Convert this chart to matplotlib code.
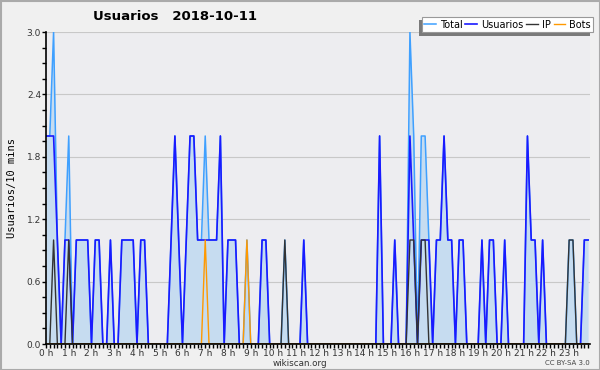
import numpy as np
import matplotlib.pyplot as plt
from matplotlib.patches import Rectangle
from matplotlib.ticker import MultipleLocator

# one value per 10 minutes, 12 values per line = 2 hours
usuarios = [
    2, 2, 2, 1, 0, 1, 1, 0, 1, 1, 1, 1,
    0, 1, 1, 0, 0, 1, 0, 0, 1, 1, 1, 1,
    0, 1, 1, 0, 0, 0, 0, 0, 0, 1, 2, 1,
    0, 1, 2, 2, 1, 1, 1, 1, 1, 1, 2, 0,
    1, 1, 1, 0, 0, 0, 0, 0, 0, 1, 1, 0,
    0, 0, 0, 0, 0, 0, 0, 0, 1, 0, 0, 0,
    0, 0, 0, 0, 0, 0, 0, 0, 0, 0, 0, 0,
    0, 0, 0, 0, 2, 0, 0, 0, 1, 0, 0, 0,
    2, 1, 0, 1, 1, 1, 0, 1, 1, 2, 1, 1,
    0, 1, 1, 0, 0, 0, 0, 1, 0, 1, 1, 0,
    0, 1, 0, 0, 0, 0, 0, 2, 1, 1, 0, 1,
    0, 0, 0, 0, 0, 0, 0, 0, 0, 0, 1, 1,
]
ip = [
    0, 0, 1, 0, 0, 0, 1, 0, 0, 0, 0, 0,
    0, 0, 0, 0, 0, 0, 0, 0, 0, 0, 0, 0,
    0, 0, 0, 0, 0, 0, 0, 0, 0, 0, 0, 0,
    0, 0, 0, 0, 0, 0, 0, 0, 0, 0, 0, 0,
    0, 0, 0, 0, 0, 0, 0, 0, 0, 0, 0, 0,
    0, 0, 0, 1, 0, 0, 0, 0, 0, 0, 0, 0,
    0, 0, 0, 0, 0, 0, 0, 0, 0, 0, 0, 0,
    0, 0, 0, 0, 0, 0, 0, 0, 0, 0, 0, 0,
    1, 1, 0, 1, 1, 0, 0, 0, 0, 0, 0, 0,
    0, 0, 0, 0, 0, 0, 0, 0, 0, 0, 0, 0,
    0, 0, 0, 0, 0, 0, 0, 0, 0, 0, 0, 0,
    0, 0, 0, 0, 0, 0, 1, 1, 0, 0, 0, 0,
]
bots = [
    0, 0, 0, 0, 0, 0, 0, 0, 0, 0, 0, 0,
    0, 0, 0, 0, 0, 0, 0, 0, 0, 0, 0, 0,
    0, 0, 0, 0, 0, 0, 0, 0, 0, 0, 0, 0,
    0, 0, 0, 0, 0, 0, 1, 0, 0, 0, 0, 0,
    0, 0, 0, 0, 0, 1, 0, 0, 0, 0, 0, 0,
    0, 0, 0, 0, 0, 0, 0, 0, 0, 0, 0, 0,
    0, 0, 0, 0, 0, 0, 0, 0, 0, 0, 0, 0,
    0, 0, 0, 0, 0, 0, 0, 0, 0, 0, 0, 0,
    0, 0, 0, 0, 0, 0, 0, 0, 0, 0, 0, 0,
    0, 0, 0, 0, 0, 0, 0, 0, 0, 0, 0, 0,
    0, 0, 0, 0, 0, 0, 0, 0, 0, 0, 0, 0,
    0, 0, 0, 0, 0, 0, 0, 0, 0, 0, 0, 0,
]
total = [
    2, 2, 3, 1, 0, 1, 2, 0, 1, 1, 1, 1,
    0, 1, 1, 0, 0, 1, 0, 0, 1, 1, 1, 1,
    0, 1, 1, 0, 0, 0, 0, 0, 0, 1, 2, 1,
    0, 1, 2, 2, 1, 1, 2, 1, 1, 1, 2, 0,
    1, 1, 1, 0, 0, 1, 0, 0, 0, 1, 1, 0,
    0, 0, 0, 1, 0, 0, 0, 0, 1, 0, 0, 0,
    0, 0, 0, 0, 0, 0, 0, 0, 0, 0, 0, 0,
    0, 0, 0, 0, 2, 0, 0, 0, 1, 0, 0, 0,
    3, 2, 0, 2, 2, 1, 0, 1, 1, 2, 1, 1,
    0, 1, 1, 0, 0, 0, 0, 1, 0, 1, 1, 0,
    0, 1, 0, 0, 0, 0, 0, 2, 1, 1, 0, 1,
    0, 0, 0, 0, 0, 0, 1, 1, 0, 0, 1, 1,
]
hour_labels = ["%d h" % h for h in range(24)]
title = "Usuarios   2018-10-11"

bg = "#f0f0f0"
fig = plt.figure(figsize=(6, 3.7), dpi=100, facecolor=bg)
ax = fig.add_axes([46 / 600, 26 / 370, 544 / 600, 312 / 370])
ax.set_facecolor("#ededf0")

x = np.arange(len(total))
ax.fill_between(x, total, color="#c6dcf0", lw=0, zorder=1)
ax.plot(x, total, color="#3fa0ff", lw=1.1, label="Total", zorder=2)
ax.plot(x, usuarios, color="#1a1aff", lw=1.2, label="Usuarios", zorder=3)
ax.plot(x, ip, color="#333333", lw=1.0, label="IP", zorder=4)
ax.plot(x, bots, color="#ff9900", lw=1.0, label="Bots", zorder=4)

ax.set_xlim(0, 143.5)
ax.set_ylim(0, 3.0)
ax.set_yticks(np.arange(0, 3.01, 0.6))
ax.set_yticklabels(["%.1f" % v for v in np.arange(0, 3.01, 0.6)])
ax.yaxis.set_minor_locator(MultipleLocator(0.15))
ax.set_xticks(np.arange(0, 144, 6))
ax.set_xticklabels(hour_labels)
ax.xaxis.set_minor_locator(MultipleLocator(1))
ax.tick_params(which="both", direction="out", color="black", width=1, length=3)
ax.tick_params(which="major", labelsize=6.5, pad=0.5, labelcolor="#333333")
ax.grid(axis="y", color="#c8c8c8", lw=0.8)
ax.set_axisbelow(True)
for s in ["top", "right"]:
    ax.spines[s].set_visible(False)
for s in ["left", "bottom"]:
    ax.spines[s].set_color("black")
    ax.spines[s].set_linewidth(1.2)
    ax.spines[s].set_zorder(6)

ax.set_ylabel("Usuarios/10 mins", family="DejaVu Sans Mono", fontsize=7.5, labelpad=7)
fig.text(175 / 600, 1 - 17 / 370, title, ha="center", va="center",
         fontsize=9.5, fontweight="bold")

# legend box with its shadow (down-left), drawn by hand
ax.add_patch(Rectangle((419 / 600, 1 - 35.5 / 370), 171 / 600, 15 / 370,
                       transform=fig.transFigure, facecolor="#7a7a7a",
                       edgecolor="none", clip_on=False, zorder=8))
ax.add_patch(Rectangle((422 / 600, 1 - 32 / 370), 171 / 600, 15 / 370,
                       transform=fig.transFigure, facecolor="white",
                       edgecolor="#999999", lw=0.8, clip_on=False, zorder=9))
leg = ax.legend(loc="center", bbox_to_anchor=(507.5 / 600, 1 - 24.5 / 370),
                bbox_transform=fig.transFigure, ncol=4, fontsize=7,
                frameon=False, handlelength=1.2, handletextpad=0.4,
                columnspacing=0.3, borderpad=0, borderaxespad=0)
leg.set_zorder(10)

fig.text(300 / 600, 1 - 363 / 370, "wikiscan.org", ha="center", va="center",
         fontsize=6.3, color="#333333")
fig.text(590 / 600, 1 - 363 / 370, "CC BY-SA 3.0", ha="right", va="center",
         fontsize=5, color="#444444")

fig.patches.append(Rectangle((0.5 / 600, 0.5 / 370), 599 / 600, 369 / 370,
                             transform=fig.transFigure, fill=False,
                             edgecolor="#aaaaaa", lw=1.5))

fig.savefig("out.png", dpi=100, facecolor=bg)
